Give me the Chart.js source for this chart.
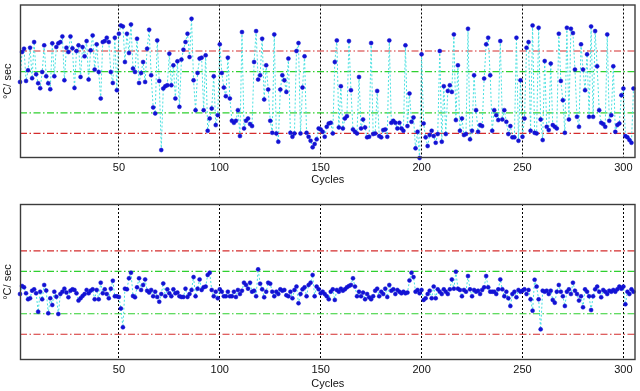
<!DOCTYPE html>
<html><head><meta charset="utf-8">
<script src="https://cdn.jsdelivr.net/npm/chart.js@4/dist/chart.umd.min.js"></script>
<style>
html,body{margin:0;padding:0;background:#fff;width:640px;height:391px;overflow:hidden}
.box{position:absolute;left:0;width:640px}
</style></head><body>
<div class="box" style="top:0;height:190px"><canvas id="c1"></canvas></div>
<div class="box" style="top:190px;height:201px"><canvas id="c2"></canvas></div>
<script>
// Upper panel: heating rate per cycle (°C/sec)
const topRate = [
1.03,4.03,4.37,1.13,2.2,4.47,1.4,5.03,1.8,0.9,
0.4,2.03,4.7,1.6,0.9,0.3,4.9,1.6,4.53,4.9,
5.03,5.6,1.2,4.47,4.03,5.6,4.4,0.43,4.13,4.7,
1.53,4.53,3.6,5.13,1.27,4.2,5.7,2.27,4.8,2.03,
-0.63,5.03,5.13,5.47,5.03,2.03,0.93,5.47,0.2,
5.87,6.7,6.6,3.03,5.87,3.93,6.8,2.37,2.03,5.37,
0.93,1.93,3.03,1.03,4.37,6.27,1.7,-1.53,-2.13,5.2,
1.13,-5.8,0.37,0.6,0.7,3.87,0.7,2.7,-0.63,3.1,
-1.47,3.27,4.27,5.03,5.87,3.53,7.37,1.2,-1.8,1.93,
3.37,3.47,-1.8,3.7,-3.87,-2.63,-1.63,1.6,-3.3,-2.3,
4.8,1.93,0.47,-0.4,3.47,-0.63,-2.87,-3.07,-2.87,-1.8,
-4.4,6.03,-3.63,-2.87,-2.63,-3.2,-3.4,3.03,6.13,1.27,
1.7,5.37,-0.73,2.7,0.27,-2.87,-4.07,5.8,-4.13,-4.97,
0.27,1.7,1.2,0.03,3.37,-4.07,-4.47,-4.13,4.13,4.93,
-4.13,0.47,3.6,-4.07,-4.47,-4.87,-5.53,-5.2,-4.73,-3.63,-3.73,
-3.97,-4.47,-3.47,-3.13,-3.07,-4.13,3.03,5.2,-3.53,0.6,
-3.63,-2.63,-2.4,5.13,0.2,-3.73,-3.97,-4.13,1.53,-3.63,
-2.73,-3.53,-4.53,-4.47,4.93,-4.2,-4.13,0.13,-4.4,-4.53,
-3.8,-3.73,-4.47,5.2,-3.07,-2.87,-3.07,-3.63,-3.07,-3.63,
-3.87,4.7,-3.4,-0.13,-2.97,-2.53,-5.63,-3.97,-6.6,3.8,
-3.13,-4.53,-5.4,-4.3,-3.87,-4.4,-5.07,-4.2,4.13,-4.97,
0.6,-4.2,0.13,0.7,0.03,5.8,-2.8,2.7,-3.87,-2.63,
-4.3,-4.2,6.37,-4.73,-3.87,1.7,-1.8,-3.97,-3.3,-3.4,
1.37,4.8,5.47,1.7,-3.87,-1.8,-2.3,-2.8,5.13,-2.73,
-1.8,-2.97,-4.2,-3.4,-4.53,-4.53,5.47,-4.87,1.2,-4.47,
-2.63,4.47,5.03,-3.87,6.7,-4.07,-4.13,6.47,-2.73,-4.8,
3.13,-3.47,-3.8,2.87,-3.3,-3.47,-3.63,5.87,1.13,-0.8,
-4.07,6.47,-2.73,6.37,5.93,2.27,-2.47,-3.47,4.8,2.27,
0.2,3.8,-2.47,6.6,-2.47,6.13,2.6,-1.8,-3.07,-3.2,
-3.47,5.8,-2.87,-2.3,2.6,-3.97,-3.3,-3.13,-0.3,0.37,
-4.4,-4.53,-4.8,-5.07,0.37
];
// Lower panel
const bottomRate = [
-0.14,0.65,0.52,-0.07,-0.66,-0.56,0.19,0.32,-0.07,-1.88,
0.09,-0.66,0.75,0.2,-2.04,-0.56,-1.22,0.09,-0.4,-2.11,
-0.14,0.09,0.39,0.0,-0.46,0.19,0.32,0.26,-0.07,-0.79,
-0.56,-0.33,-0.14,0.26,-0.07,0.19,0.32,-0.66,0.26,-0.66,
0.98,-0.07,0.32,-0.14,-0.56,0.39,1.17,-0.36,-0.36,-0.43,
-1.56,-3.42,0.39,0.32,1.41,1.96,-0.33,-0.46,0.52,1.41,
0.26,0.75,1.3,0.19,0.0,0.26,-0.36,0.09,-0.43,-0.9,
-0.14,0.9,-0.36,0.32,-0.07,-0.36,0.32,-0.07,0.0,-0.36,
-0.43,-0.43,0.39,-0.43,-0.14,0.26,1.53,-0.36,0.39,1.3,
0.26,0.52,0.59,1.74,1.96,0.26,-0.36,0.09,-0.56,0.32,
0.09,-0.36,-0.36,0.09,-0.36,-0.36,0.09,-0.43,0.26,-0.14,
0.19,0.98,0.75,0.39,0.98,0.09,0.19,-0.36,2.29,0.88,
0.32,-0.46,0.09,0.98,0.88,0.09,-0.36,0.09,-0.14,0.32,
0.19,0.26,-0.26,-0.36,0.09,-0.56,0.26,0.59,-1.05,-0.14,
0.32,0.52,-0.36,0.75,0.98,1.74,-0.36,0.59,0.32,-0.07,
0.09,-0.14,-0.36,-0.66,0.09,0.32,-0.72,0.26,0.09,0.39,
0.19,0.32,0.52,0.65,0.75,1.41,0.59,-0.36,0.09,-0.36,
0.0,-0.66,-0.14,-0.46,-0.66,-0.36,0.19,0.39,-0.36,0.09,
-0.14,0.39,-0.43,0.75,0.19,0.32,-0.14,0.26,0.09,-0.07,
0.09,-0.07,0.0,1.2,1.96,1.53,0.09,0.26,-0.07,0.26,
-0.72,-0.56,-0.14,0.19,-0.56,0.59,-0.56,0.32,0.09,-0.14,
0.32,0.09,-0.14,0.32,1.3,0.39,2.06,0.39,0.26,-0.36,
0.26,0.09,1.63,0.32,-0.36,0.26,0.09,0.19,-0.14,0.26,
0.52,1.63,0.52,0.09,0.09,0.09,-0.14,0.32,1.3,0.32,
-0.36,0.09,-0.56,-1.32,-0.14,0.09,-0.46,0.26,0.09,0.19,
0.32,-0.14,0.26,-0.66,-1.78,1.27,0.59,-0.66,-3.62,0.19,
0.09,0.19,-0.14,0.19,-0.72,-1.0,0.09,0.75,0.09,-0.36,
-1.32,0.09,0.32,-0.14,0.98,0.19,-0.14,-0.79,-0.36,-1.45,
0.32,0.09,-0.36,-1.72,-0.36,0.32,0.59,0.09,-0.46,0.26,
0.09,-0.14,0.19,0.09,0.26,0.09,0.32,0.59,0.39,0.59,
-1.15,0.09,-0.14,0.32,0.09
];
const xTicks = [50, 100, 150, 200, 250, 300];
const xRange = [1, 306];
// control limits [lower red, lower green, upper green, upper red]
const topLimits = [-4.13, -2.07, 2.07, 4.13];
const bottomLimits = [-4.11, -2.09, 2.09, 4.11];
const topYRange = [-6.6, 8.8];
const bottomYRange = [-6.64, 8.73];

const FONT = "'Liberation Sans', Arial, Helvetica, sans-serif";
const framePlugin = {
  id: 'frame',
  afterDatasetsDraw(chart) {
    const {ctx, chartArea: a} = chart;
    ctx.save();
    ctx.strokeStyle = '#3c3c3c';
    ctx.lineWidth = 1.4;
    ctx.strokeRect(a.left + 0.5, a.top + 0.5, a.right - a.left - 1, a.bottom - a.top - 1);
    ctx.restore();
  }
};

function limitSet(v, color) {
  return {
    data: [{x: xRange[0], y: v}, {x: xRange[1], y: v}],
    borderColor: color, borderWidth: 1.1, borderDash: [7, 2.5, 1.5, 2.5],
    pointRadius: 0, fill: false
  };
}

function makeChart(id, values, limits, yRange, padTop, axisH, titlePad) {
  const cycles = values.map((_, i) => i + 1);
  return new Chart(document.getElementById(id), {
    type: 'line',
    data: {
      datasets: [
        {
          data: values.map((v, i) => ({x: cycles[i], y: v})),
          borderColor: '#48e0e0', borderWidth: 1, borderDash: [2, 2],
          pointRadius: 2, pointStyle: 'circle',
          pointBackgroundColor: '#1212d4', pointBorderColor: '#1212d4', pointBorderWidth: 0.5,
          tension: 0, fill: false, clip: 6
        },
        limitSet(limits[3], '#d42c2c'),
        limitSet(limits[0], '#d42c2c'),
        limitSet(limits[2], '#2fd02f'),
        limitSet(limits[1], '#2fd02f')
      ]
    },
    options: {
      responsive: true, maintainAspectRatio: false, animation: false,
      layout: {padding: {top: padTop, right: 1, left: 0, bottom: 0}},
      plugins: {legend: {display: false}, tooltip: {enabled: false}},
      scales: {
        x: {
          type: 'linear', min: xRange[0], max: xRange[1],
          afterBuildTicks: s => { s.ticks = xTicks.map(v => ({value: v})); },
          afterFit: s => { s.height = axisH; },
          grid: {color: '#000', lineWidth: 1, drawTicks: false},
          border: {display: false, dash: [2, 2]},
          ticks: {color: '#111', font: {family: FONT, size: 11}, padding: 3, maxRotation: 0, autoSkip: false},
          title: {display: true, text: 'Cycles', color: '#111', font: {family: FONT, size: 11}, padding: {top: 0, bottom: titlePad}}
        },
        y: {
          min: yRange[0], max: yRange[1],
          afterFit: s => { s.width = 20; },
          grid: {display: false}, border: {display: false},
          ticks: {display: false},
          title: {display: true, text: '°C/ sec', color: '#111', font: {family: FONT, size: 11}, padding: {top: 1.5, bottom: 0}}
        }
      }
    },
    plugins: [framePlugin]
  });
}

makeChart('c1', topRate, topLimits, topYRange, 4, 32, 3);
makeChart('c2', bottomRate, bottomLimits, bottomYRange, 14, 31, 0);
</script>
</body></html>
